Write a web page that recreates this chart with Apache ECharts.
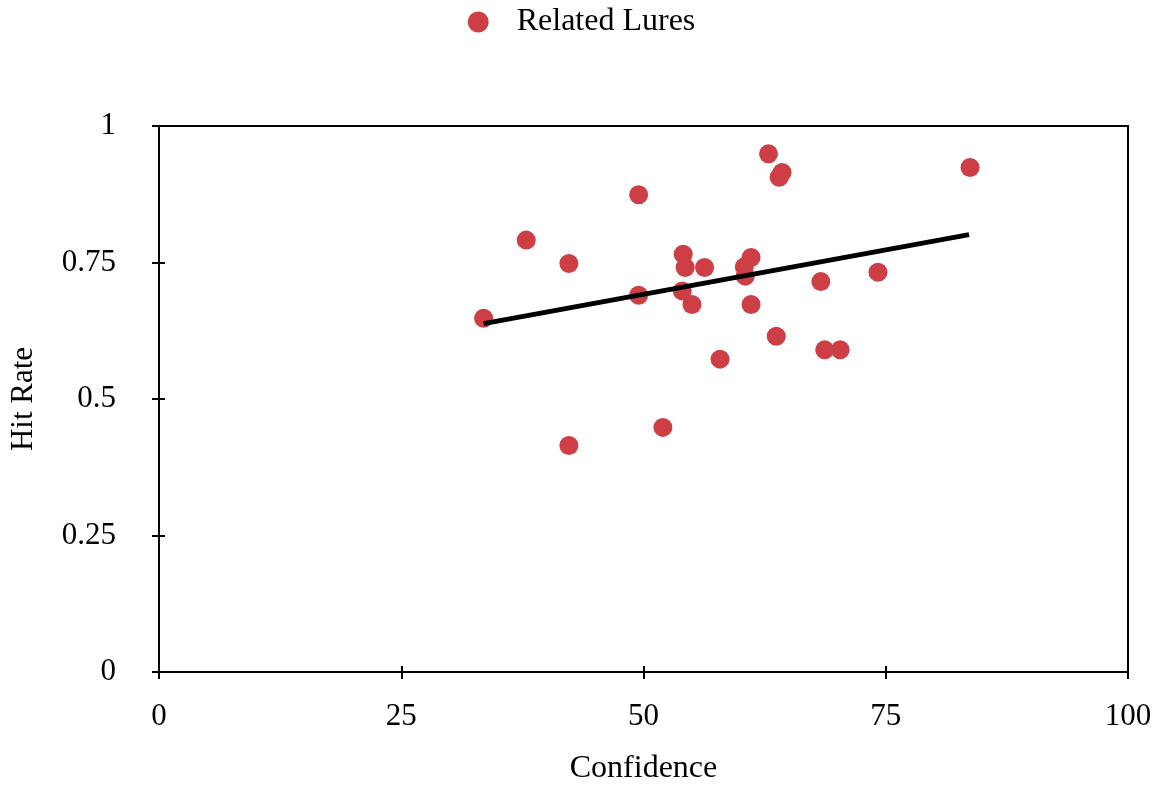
<!DOCTYPE html>
<html>
<head>
<meta charset="utf-8">
<title>Related Lures</title>
<script src="https://cdn.jsdelivr.net/npm/echarts@6/dist/echarts.min.js"></script>
<style>
html, body { margin: 0; padding: 0; background: #ffffff; }
#chart { width: 1163px; height: 790px; }
</style>
</head>
<body>
<div id="chart"></div>
<script>
// values
var confidence = [33.5, 37.9, 42.3, 42.3, 49.5, 49.5, 52.0, 54.1, 54.3, 54.0, 55.0, 56.3, 57.9,
    60.4, 60.5, 61.1, 61.1, 62.9, 64.3, 64.0, 63.7, 68.3, 68.7, 70.3, 74.2, 83.7];
var hitRate = [0.648, 0.791, 0.748, 0.415, 0.874, 0.690, 0.448, 0.765, 0.741, 0.698, 0.673, 0.741, 0.573,
    0.742, 0.725, 0.759, 0.673, 0.949, 0.915, 0.906, 0.615, 0.715, 0.590, 0.590, 0.732, 0.924];
// trend line end points
var trendX = [33.5, 83.6];
var trendY = [0.638, 0.801];

var xTicks = [0, 25, 50, 75, 100];
var yTicks = [0, 0.25, 0.5, 0.75, 1];

var FONT = '"Liberation Serif", "Times New Roman", serif';

var chart = echarts.init(document.getElementById('chart'));

function axisBase(extra) {
    var a = {
        type: 'value',
        axisLine: { show: true, onZero: false, lineStyle: { color: '#000', width: 2 } },
        splitLine: { show: false },
        axisTick: { show: true, length: 7, lineStyle: { color: '#000', width: 2 } },
        axisLabel: { color: '#000', fontFamily: FONT, fontSize: 31 }
    };
    return Object.assign(a, extra);
}

var option = {
    animation: false,
    backgroundColor: '#fff',
    grid: {
        left: 159,
        right: 35,
        top: 126,
        bottom: 116,
        show: true,
        borderColor: '#000',
        borderWidth: 2
    },
    legend: {
        data: [{ name: 'Related Lures', icon: 'circle' }],
        top: 1,
        left: 'center',
        itemWidth: 21,
        itemHeight: 21,
        itemGap: 10,
        textStyle: { color: '#000', fontFamily: FONT, fontSize: 32, padding: [0, 0, 0, 23] }
    },
    xAxis: [
        axisBase({
            min: 0, max: 100, interval: 25,
            name: 'Confidence',
            nameLocation: 'middle',
            nameGap: 81,
            nameTextStyle: { color: '#000', fontFamily: FONT, fontSize: 32 },
            axisLabel: { color: '#000', fontFamily: FONT, fontSize: 31, margin: 29 }
        }),
        axisBase({
            min: 0, max: 100, interval: 25, position: 'bottom',
            axisTick: { show: true, inside: true, length: 6, lineStyle: { color: '#000', width: 2 } },
            axisLabel: { show: false }
        })
    ],
    yAxis: [
        axisBase({
            min: 0, max: 1, interval: 0.25,
            name: 'Hit Rate',
            nameLocation: 'middle',
            nameGap: 120,
            nameTextStyle: { color: '#000', fontFamily: FONT, fontSize: 31 },
            axisLabel: { color: '#000', fontFamily: FONT, fontSize: 31, margin: 43 }
        }),
        axisBase({
            min: 0, max: 1, interval: 0.25, position: 'left',
            axisTick: { show: true, inside: true, length: 6, lineStyle: { color: '#000', width: 2 } },
            axisLabel: { show: false }
        })
    ],
    series: [
        {
            name: 'Related Lures',
            type: 'scatter',
            symbol: 'circle',
            symbolSize: 19,
            itemStyle: { color: '#CD3F45', opacity: 1 },
            data: confidence.map(function (x, i) { return [x, hitRate[i]]; }),
            z: 3
        },
        {
            name: 'trend',
            type: 'line',
            symbol: 'none',
            lineStyle: { color: '#000', width: 5 },
            data: trendX.map(function (x, i) { return [x, trendY[i]]; }),
            z: 4
        }
    ]
};

chart.setOption(option);
</script>
</body>
</html>
